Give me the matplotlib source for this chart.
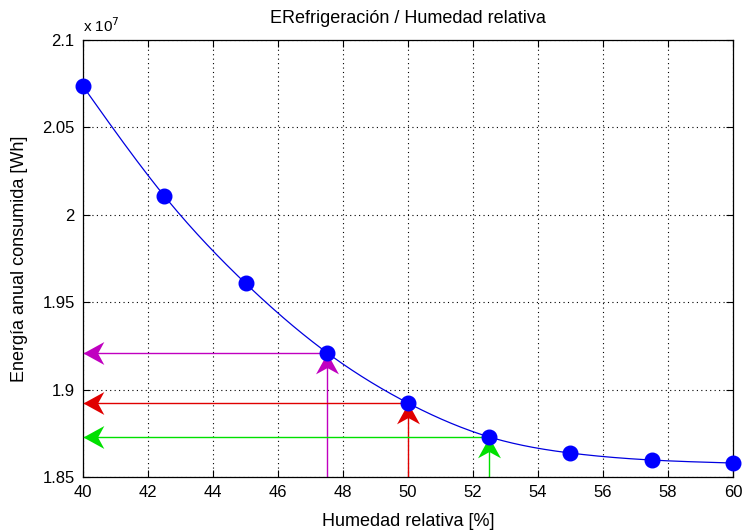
import numpy as np
import matplotlib
matplotlib.use("Agg")
import matplotlib.pyplot as plt
from matplotlib.path import Path

plt.rcParams['font.family'] = ['Liberation Sans', 'DejaVu Sans']

# Relative humidity [%] and annual consumed energy [x 1e7 Wh]
humedad = [40, 42.5, 45, 47.5, 50, 52.5, 55, 57.5, 60]
energia = [2.0735, 2.0108, 1.9608, 1.9212, 1.8923, 1.8729, 1.8637, 1.8597, 1.8580]

# Highlighted operating points: humidity, colour
marcas_x = [47.5, 50, 52.5]
marcas_color = ['#c000c0', '#e00000', '#00e000']

xticks = [40, 42, 44, 46, 48, 50, 52, 54, 56, 58, 60]
yticks = [1.85, 1.9, 1.95, 2.0, 2.05, 2.1]
ytick_labels = ['1.85', '1.9', '1.95', '2', '2.05', '2.1']


def natural_spline(x, y, xs):
    x = np.asarray(x, float)
    y = np.asarray(y, float)
    n = len(x)
    h = np.diff(x)
    A = np.zeros((n, n))
    b = np.zeros(n)
    A[0, 0] = A[-1, -1] = 1
    for i in range(1, n - 1):
        A[i, i - 1] = h[i - 1]
        A[i, i] = 2 * (h[i - 1] + h[i])
        A[i, i + 1] = h[i]
        b[i] = 3 * ((y[i + 1] - y[i]) / h[i] - (y[i] - y[i - 1]) / h[i - 1])
    c = np.linalg.solve(A, b)
    out = np.empty_like(xs)
    for k, xv in enumerate(xs):
        i = min(max(np.searchsorted(x, xv) - 1, 0), n - 2)
        dx = xv - x[i]
        bi = (y[i + 1] - y[i]) / h[i] - h[i] * (2 * c[i] + c[i + 1]) / 3
        di = (c[i + 1] - c[i]) / (3 * h[i])
        out[k] = y[i] + bi * dx + c[i] * dx ** 2 + di * dx ** 3
    return out


def head(direction):
    # barbed arrowhead with its tip at the origin
    pts = [(0, 0), (1, 0.55), (0.7, 0), (1, -0.55), (0, 0)]
    if direction == 'up':
        pts = [(py, -px) for px, py in pts]
    codes = [Path.MOVETO] + [Path.LINETO] * 3 + [Path.CLOSEPOLY]
    return Path(pts, codes)


fig = plt.figure(figsize=(7.44, 5.31), dpi=100)
ax = fig.add_axes([0.1116, 0.1017, 0.8736, 0.823])

xs = np.linspace(40, 60, 400)
ax.plot(xs, natural_spline(humedad, energia, xs), color='#0000e0', lw=0.9, zorder=3)

for xm, col in zip(marcas_x, marcas_color):
    ym = energia[humedad.index(xm)]
    ax.plot([xm, xm], [1.85, ym], color=col, lw=1.0, zorder=2)
    ax.plot([40, xm], [ym, ym], color=col, lw=1.0, zorder=2)
    ax.plot([xm], [ym], marker=head('up'), ms=30, color=col, mew=0, zorder=3.5,
            clip_on=False)
    ax.plot([40], [ym], marker=head('left'), ms=30, color=col, mew=0, zorder=3.5,
            clip_on=False)

ax.plot(humedad, energia, 'o', color='#0000ff', ms=10.5, zorder=4, clip_on=False)

ax.set_xlim(40, 60)
ax.set_ylim(1.85, 2.1)
ax.set_xticks(xticks)
ax.set_yticks(yticks)
ax.set_yticklabels(ytick_labels)
ax.grid(True, color='black', linestyle=(0, (1, 3)), linewidth=0.8)
ax.tick_params(direction='in', length=5, labelsize=12, pad=6, top=True, right=True,
               labeltop=False, labelright=False)
for s in ax.spines.values():
    s.set_linewidth(0.9)

ax.set_title('ERefrigeración / Humedad relativa', fontsize=13, pad=12)
ax.set_xlabel('Humedad relativa [%]', fontsize=13, labelpad=9)
ax.set_ylabel('Energía anual consumida [Wh]', fontsize=13, labelpad=10)
ax.text(0.0, 1.012, r'x 10$^7$', transform=ax.transAxes, fontsize=11,
        ha='left', va='bottom')

fig.savefig('out.png', dpi=100)
